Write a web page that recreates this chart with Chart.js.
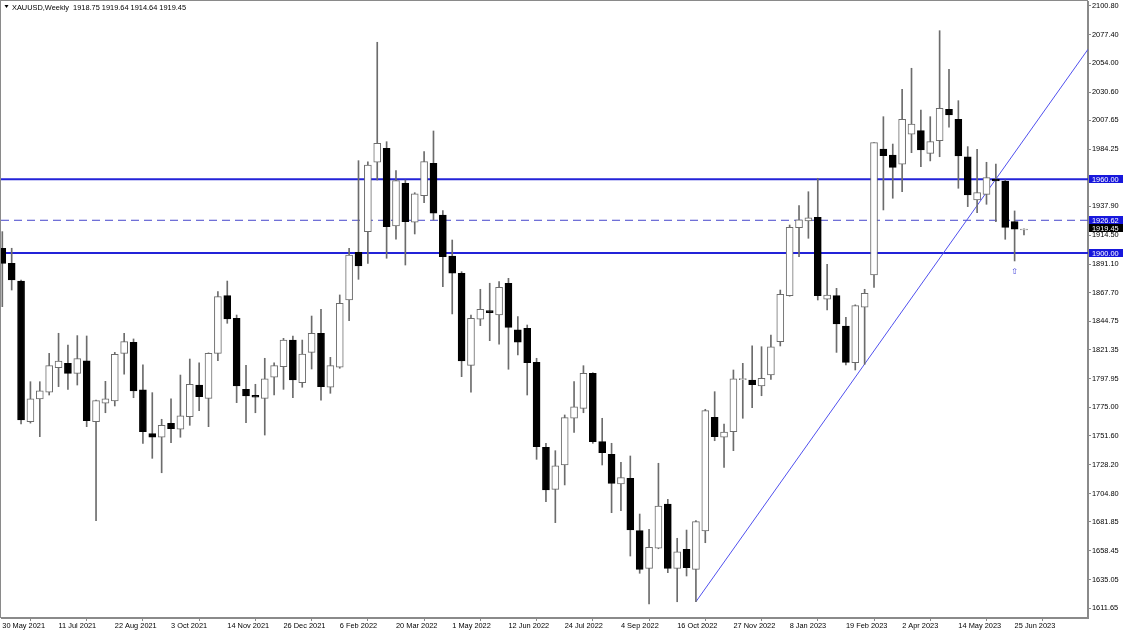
<!DOCTYPE html>
<html>
<head>
<meta charset="utf-8">
<script src="https://cdn.jsdelivr.net/npm/chart.js@4.4.0/dist/chart.umd.min.js"></script>
<style>
  html, body { margin: 0; padding: 0; background: #fff; overflow: hidden; }
  #wrap { position: relative; width: 1125px; height: 633px; }
</style>
</head>
<body>
<div id="wrap"><canvas id="chart" width="1125" height="633"></canvas></div>
<script>
/* XAUUSD weekly candles, 30 May 2021 - 2 Jul 2023 */
const SYMBOL = 'XAUUSD,Weekly';
const LAST_OHLC = ['1918.75', '1919.64', '1914.64', '1919.45'];

// bar 0 = week of 30 May 2021, one bar per week
const opens = [
  1903.9, 1891.7, 1877.3, 1763.1, 1781.6, 1787.0, 1807.0, 1810.5, 1802.4, 1812.6,
  1763.1, 1778.1, 1779.9, 1818.6, 1827.6, 1788.9, 1753.4, 1750.5, 1761.8, 1757.0,
  1767.2, 1792.9, 1782.1, 1818.6, 1865.5, 1847.1, 1789.5, 1784.6, 1782.1, 1799.2,
  1807.8, 1829.4, 1794.8, 1819.4, 1834.9, 1791.1, 1807.3, 1861.9, 1900.6, 1917.4,
  1973.7, 1985.0, 1922.0, 1956.6, 1925.0, 1946.6, 1972.9, 1930.9, 1897.6, 1883.6,
  1808.9, 1846.3, 1853.3, 1849.7, 1875.5, 1837.6, 1839.0, 1811.3, 1742.3, 1708.2,
  1728.0, 1765.9, 1774.0, 1802.4, 1746.9, 1736.7, 1712.6, 1717.2, 1674.7, 1644.1,
  1660.4, 1696.3, 1644.1, 1659.5, 1643.3, 1674.4, 1766.7, 1750.5, 1755.0, 1797.3,
  1797.0, 1792.1, 1801.0, 1828.1, 1865.4, 1920.6, 1926.0, 1929.0, 1862.5, 1865.4,
  1840.8, 1811.0, 1856.0, 1882.2, 1984.5, 1979.6, 1972.1, 1996.6, 1999.4, 1980.9,
  1991.2, 2016.7, 2008.6, 1978.2, 1943.1, 1947.7, 1960.1, 1958.5, 1925.5, 1918.75
];
const highs = [
  1917.4, 1903.9, 1878.1, 1795.6, 1795.6, 1818.6, 1834.9, 1825.4, 1833.0, 1832.7,
  1780.7, 1795.9, 1819.4, 1834.9, 1830.3, 1809.2, 1786.7, 1765.1, 1781.6, 1801.0,
  1814.0, 1811.0, 1819.0, 1868.7, 1877.3, 1849.7, 1808.9, 1793.5, 1814.6, 1811.0,
  1830.8, 1832.7, 1829.4, 1848.9, 1854.4, 1815.4, 1866.0, 1903.9, 1975.0, 1974.0,
  2071.1, 1990.4, 1966.9, 1959.3, 1949.0, 1982.3, 1999.1, 1934.4, 1910.6, 1884.9,
  1849.7, 1870.6, 1875.5, 1876.8, 1879.5, 1848.4, 1841.6, 1814.6, 1745.6, 1739.6,
  1768.6, 1795.6, 1808.6, 1802.9, 1765.9, 1745.6, 1730.2, 1735.3, 1688.2, 1675.8,
  1729.4, 1700.1, 1668.5, 1675.2, 1682.8, 1773.2, 1787.5, 1761.3, 1805.1, 1810.5,
  1824.8, 1824.0, 1833.5, 1870.0, 1922.8, 1938.5, 1949.8, 1960.7, 1890.9, 1871.4,
  1847.9, 1858.0, 1870.6, 1989.6, 2010.7, 1988.5, 2032.9, 2050.0, 2016.1, 2010.7,
  2080.5, 2049.2, 2023.7, 1986.4, 1984.2, 1973.7, 1972.3, 1959.3, 1934.2, 1919.64
];
const lows = [
  1856.5, 1870.0, 1761.3, 1762.0, 1751.0, 1784.8, 1791.6, 1789.4, 1792.9, 1759.1,
  1682.8, 1770.4, 1775.9, 1801.8, 1782.6, 1745.6, 1733.4, 1721.7, 1746.1, 1750.5,
  1760.2, 1772.1, 1759.1, 1812.6, 1843.0, 1778.6, 1762.3, 1770.4, 1752.3, 1784.8,
  1789.4, 1782.6, 1791.1, 1805.9, 1780.7, 1786.2, 1806.5, 1845.1, 1878.7, 1891.7,
  1959.3, 1895.8, 1911.2, 1890.3, 1915.5, 1940.9, 1926.9, 1872.7, 1850.6, 1799.7,
  1787.0, 1841.1, 1828.9, 1826.0, 1805.7, 1817.3, 1784.8, 1732.6, 1698.2, 1681.2,
  1711.8, 1754.5, 1770.4, 1745.6, 1728.0, 1689.3, 1690.9, 1654.1, 1640.1, 1615.2,
  1660.0, 1640.6, 1617.0, 1637.9, 1617.0, 1664.9, 1747.7, 1726.1, 1739.6, 1765.9,
  1774.5, 1784.2, 1797.5, 1824.6, 1865.0, 1897.1, 1912.0, 1861.9, 1853.8, 1819.4,
  1809.2, 1805.1, 1809.7, 1872.2, 1935.0, 1944.5, 1949.8, 1981.5, 1970.1, 1974.8,
  1978.2, 2002.1, 1952.6, 1937.7, 1932.8, 1939.6, 1925.5, 1911.2, 1893.6, 1914.64
];
const closes = [
  1891.7, 1878.2, 1764.5, 1781.6, 1788.1, 1808.6, 1812.4, 1802.4, 1814.3, 1763.9,
  1780.2, 1781.6, 1817.8, 1828.1, 1788.1, 1755.0, 1750.5, 1760.2, 1757.5, 1767.8,
  1793.5, 1783.4, 1818.6, 1864.6, 1846.5, 1792.1, 1784.0, 1783.0, 1798.0, 1808.6,
  1829.4, 1797.0, 1818.1, 1834.9, 1791.6, 1808.6, 1859.2, 1898.4, 1889.5, 1971.5,
  1989.1, 1921.4, 1958.8, 1925.5, 1948.0, 1974.2, 1932.3, 1897.1, 1883.6, 1812.4,
  1847.1, 1854.4, 1851.6, 1872.2, 1839.7, 1827.6, 1811.0, 1742.8, 1707.7, 1727.4,
  1766.4, 1775.3, 1802.4, 1746.9, 1738.0, 1713.1, 1717.7, 1675.2, 1643.3, 1661.2,
  1694.7, 1644.1, 1657.6, 1644.6, 1682.0, 1772.1, 1751.0, 1754.8, 1798.0, 1797.7,
  1793.2, 1798.4, 1824.0, 1866.5, 1920.9, 1926.9, 1928.7, 1865.4, 1866.0, 1842.4,
  1811.3, 1857.3, 1867.4, 1989.6, 1979.1, 1969.6, 2008.6, 2004.8, 1983.7, 1990.4,
  2017.5, 2012.1, 1978.8, 1947.1, 1949.0, 1961.2, 1958.5, 1920.9, 1919.5, 1919.45
];

// time axis labels, one every 6 bars
const dateTickBars = [0, 6, 12, 18, 24, 30, 36, 42, 48, 54, 60, 66, 72, 78, 84, 90, 96, 102, 108];
const dateTicks = [
  '30 May 2021', '11 Jul 2021', '22 Aug 2021', '3 Oct 2021', '14 Nov 2021', '26 Dec 2021',
  '6 Feb 2022', '20 Mar 2022', '1 May 2022', '12 Jun 2022', '24 Jul 2022', '4 Sep 2022',
  '16 Oct 2022', '27 Nov 2022', '8 Jan 2023', '19 Feb 2023', '2 Apr 2023', '14 May 2023', '25 Jun 2023'
];
const priceTicks = [
  2100.80, 2077.40, 2054.00, 2030.60, 2007.65, 1984.25, 1960.85, 1937.90, 1914.50, 1891.10, 1867.70,
  1844.75, 1821.35, 1797.95, 1775.00, 1751.60, 1728.20, 1704.80, 1681.85, 1658.45, 1635.05, 1611.65
];

// drawn objects
const solidLevels = [1960.00, 1900.00];
const dashedLevels = [1926.62];
const bidPrice = 1919.45;
const trendPoints = [{ x: 74, y: 1617.0 }, { x: 115.83, y: 2065.4 }];
const arrowMarks = [{ x: 108, y: 1885.0 }];

const X_MIN = -0.14, X_MAX = 115.83;
const Y_MIN = 1603.8, Y_MAX = 2104.6;
const FONT = 'Tahoma, "Liberation Sans", Arial, sans-serif';
const WICK = '#6c6c6c';
const LINE_BLUE = '#2323d8';
const BOX_BLUE = '#1717dc';

const bars = opens.map((_, i) => i);
const isBull = (i) => closes[i] >= opens[i];

const levelDataset = (v, dash) => ({
  type: 'line', data: [{ x: X_MIN, y: v }, { x: X_MAX, y: v }],
  borderColor: dash ? '#4646cc' : LINE_BLUE, borderWidth: dash ? 1 : 2,
  borderDash: dash ? [8, 5] : [], pointRadius: 0, order: 5,
});

// keep the plot area fixed: no extra room for end labels
const noEdgePad = (s) => {
  s.paddingTop = 0; s.paddingBottom = 0; s.paddingLeft = 0; s.paddingRight = 0;
};

const overlay = {
  id: 'overlay',
  beforeDatasetsDraw(chart) {
    const { ctx, chartArea: a } = chart;
    ctx.save();
    ctx.strokeStyle = '#8a8a8a';
    ctx.lineWidth = 1;
    ctx.strokeRect(a.left - 0.5, a.top - 0.5, a.right - a.left, a.bottom - a.top);
    ctx.restore();
  },
  afterDraw(chart) {
    const { ctx, chartArea: a, scales: { x, y } } = chart;
    ctx.save();
    // header
    ctx.fillStyle = '#000';
    ctx.beginPath();
    ctx.moveTo(4.5, 5); ctx.lineTo(8.5, 5); ctx.lineTo(6.5, 8); ctx.closePath(); ctx.fill();
    ctx.font = `7.4px ${FONT}`;
    ctx.textBaseline = 'middle';
    ctx.textAlign = 'left';
    ctx.fillText(`${SYMBOL}  ${LAST_OHLC.join(' ')}`, 12, 7.5);

    // price boxes on the right axis
    const box = (v, bg, shift) => {
      const py = Math.round(y.getPixelForValue(v)) + (shift || 0);
      ctx.fillStyle = bg;
      ctx.fillRect(a.right + 1, py - 4, 34, 8);
      ctx.fillStyle = '#fff';
      ctx.fillText(v.toFixed(2), a.right + 4, py + 0.5);
    };
    solidLevels.concat(dashedLevels).forEach((v) => box(v, BOX_BLUE));
    box(bidPrice, '#000', -1);

    // arrow marker
    ctx.fillStyle = '#3a3ad8';
    ctx.font = `8px "DejaVu Sans", sans-serif`;
    ctx.textAlign = 'center';
    arrowMarks.forEach((m) => ctx.fillText('\u21E7', x.getPixelForValue(m.x), y.getPixelForValue(m.y)));
    ctx.restore();
  },
};

new Chart(document.getElementById('chart'), {
  data: {
    datasets: [
      {
        type: 'bar', label: 'bodies',
        data: bars.map((i) => ({ x: i, y: [opens[i], closes[i]] })),
        backgroundColor: bars.map((i) => (isBull(i) ? '#fff' : '#000')),
        borderColor: bars.map((i) => (isBull(i) ? WICK : '#000')),
        borderWidth: 1, borderSkipped: false, barThickness: 7, minBarLength: 1,
        grouped: false, order: 0,
      },
      {
        type: 'bar', label: 'wicks',
        data: bars.map((i) => ({ x: i, y: [lows[i], highs[i]] })),
        backgroundColor: WICK, barThickness: 1, grouped: false, order: 1,
      },
      ...solidLevels.map((v) => levelDataset(v, false)),
      ...dashedLevels.map((v) => levelDataset(v, true)),
      {
        type: 'line', data: trendPoints, borderColor: '#5050ee', borderWidth: 1,
        pointRadius: 0, order: 4,
      },
    ],
  },
  options: {
    responsive: false, animation: false, devicePixelRatio: 1,
    layout: { padding: { left: 1, top: 1, right: 0, bottom: 0 } },
    plugins: { legend: { display: false }, tooltip: { enabled: false } },
    scales: {
      x: {
        type: 'linear', min: X_MIN, max: X_MAX, offset: false,
        afterBuildTicks: (s) => { s.ticks = dateTickBars.map((v) => ({ value: v })); },
        afterFit: (s) => { s.height = 15; noEdgePad(s); },
        ticks: {
          autoSkip: false, maxRotation: 0, align: 'start', padding: 1,
          color: '#000', font: { family: FONT, size: 7.4 },
          callback: (v) => dateTicks[dateTickBars.indexOf(v)],
        },
        grid: { drawOnChartArea: false, tickLength: 3, color: '#8a8a8a' },
        border: { color: '#8a8a8a' },
      },
      y: {
        type: 'linear', position: 'right', min: Y_MIN, max: Y_MAX, beginAtZero: false,
        afterBuildTicks: (s) => { s.ticks = priceTicks.map((v) => ({ value: v })); },
        afterFit: (s) => { s.width = 37; noEdgePad(s); },
        ticks: {
          padding: 1, color: '#000', font: { family: FONT, size: 7.4 },
          callback: (v) => v.toFixed(2),
        },
        grid: { drawOnChartArea: false, tickLength: 3, color: '#8a8a8a' },
        border: { color: '#8a8a8a' },
      },
    },
  },
  plugins: [overlay],
});
</script>
</body>
</html>
